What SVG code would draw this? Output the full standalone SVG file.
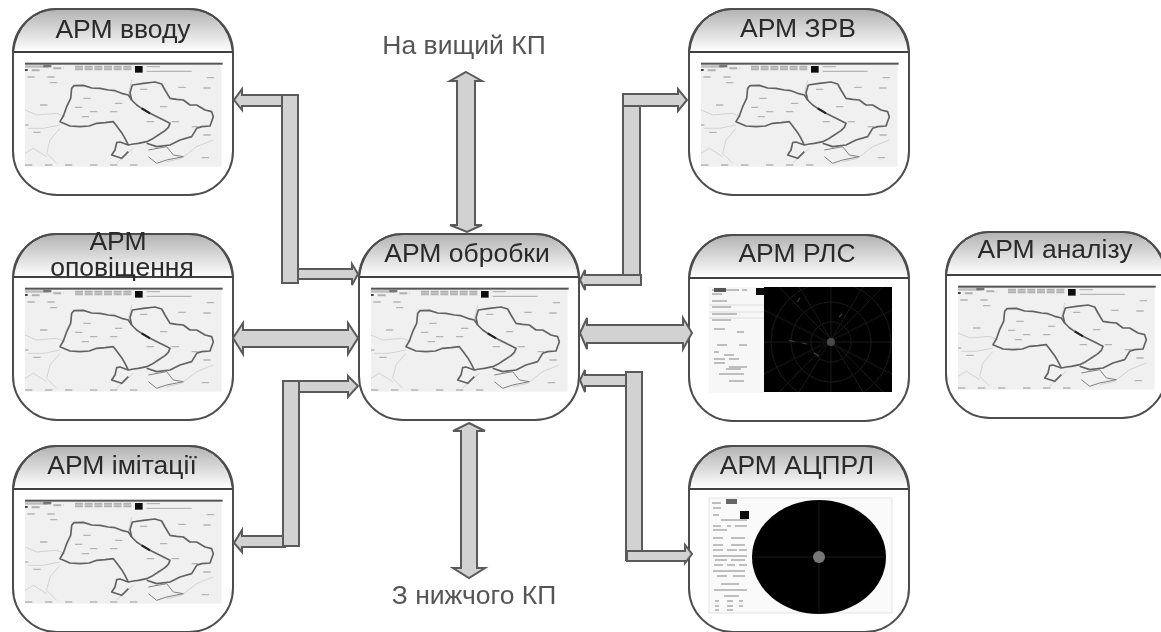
<svg xmlns="http://www.w3.org/2000/svg" xmlns:xlink="http://www.w3.org/1999/xlink" width="1161" height="632" viewBox="0 0 1161 632">
<style>
.label{font-family:"Liberation Sans",Arial,sans-serif;font-size:26.5px;fill:#2a2a2a;text-anchor:middle;filter:url(#soft)}
.ext{fill:#555}
.frame{fill:#fff;stroke:#4d4d4d;stroke-width:2}
.head{fill:url(#hg)}
.hline{stroke:#404040;stroke-width:2}
.conn path{fill:#d2d2d2;stroke:#5a5a5a;stroke-width:2;stroke-linejoin:miter}
.thick{fill:none;stroke:#626262;stroke-width:5;stroke-linejoin:round}
.river{fill:none;stroke:#cdcdcd;stroke-width:2.5}
.tiny{fill:none;stroke:#b4b4b4;stroke-width:4;stroke-dasharray:22 38}
.dash{stroke:#777;stroke-width:.9;fill:none}
</style>
<defs>
<linearGradient id="hg" x1="0" y1="0" x2="0" y2="1"><stop offset="0" stop-color="#b4b4b4"/><stop offset="1" stop-color="#fff"/></linearGradient>
<filter id="soft" x="-5%" y="-10%" width="110%" height="120%"><feGaussianBlur stdDeviation="0.45"/></filter>
<filter id="mapblur" x="-2%" y="-2%" width="104%" height="104%"><feGaussianBlur stdDeviation="2.2"/></filter>
<clipPath id="scope"><rect x="75" y="52" width="128" height="105"/></clipPath>
<g id="frame">
<rect class="frame" x="0" y="0" width="220" height="186" rx="44" ry="44"/>
<path class="head" d="M1,43C4,18 22,1 44,1H176C198,1 216,18 219,43Z"/>
<line class="hline" x1="0" y1="43" x2="220" y2="43"/>
<path d="M44,0H176C200,0 217,18 220,43M0,43C3,18 20,0 44,0" fill="none" stroke="#4d4d4d" stroke-width="2"/>
</g>
<g id="map" transform="translate(-13,-9) scale(.33333)">
<g filter="url(#mapblur)">
<rect x="75" y="192" width="590" height="308" fill="#f0f0f0"/>
<rect x="75" y="188" width="593" height="6" fill="#555"/>
<rect x="75" y="196" width="70" height="7" fill="#bbb"/>
<rect x="130" y="194" width="24" height="8" fill="#777"/>
<rect x="75" y="207" width="8" height="6" fill="#444"/>
<path d="M95,211H120M160,205H190M225,200H395M225,208H395" stroke="#b0b0b0" stroke-width="6" stroke-dasharray="24 5" fill="none"/>
<rect x="405" y="198" width="23" height="20" fill="#111"/>
<path d="M440,214H575M440,200H480" stroke="#aaa" stroke-width="3" fill="none"/>
<path class="river" d="M75,330L110,345L170,340L195,350M85,385L130,385L180,375M180,385L150,420L140,460L170,490M75,460L100,445L140,470M400,445L370,470L350,490M500,485L545,475L590,440L640,420M395,240L385,285"/>
<path class="tiny" d="M82,231H165M150,248H175M120,315H150M75,375H85M100,397H130M250,295H300M225,322H250M270,335H360M245,350H290M345,310H375M420,268H450M480,320H510M535,262H560M620,233H650M610,264H640M440,365H480M515,365H550M575,380H595M610,405H665M605,473H640M75,495H230M270,495H450"/>
<path class="thick" d="M215,265L222,257L250,256L275,264L300,265L325,270L345,272L365,280L385,285L395,300L410,315L425,325L450,340L480,355L510,370L505,382L495,392L475,405L455,418L440,425L415,430L400,432L385,435L375,415L365,398L350,378L340,365L315,368L290,370L268,378L240,380L210,378L180,365L190,348L200,320L212,295Z"/>
<path class="thick" d="M395,300L390,278L397,255L430,250L465,246L485,252L495,270L510,295L530,298L550,300L570,315L590,315L615,330L635,335L640,350L630,378L605,380L590,385L575,410L540,420L510,435L470,440L440,430"/>
<path class="thick" stroke-width="3.5" d="M385,435L360,426L350,428L345,450L335,465L365,475L385,455"/>
<path d="M445,450L500,440L520,465L550,470L500,480L470,490L445,470" fill="none" stroke="#808080" stroke-width="3"/>
<path d="M425,325L450,340" stroke="#222" stroke-width="6" fill="none"/>
</g>
</g>
</defs>

<g id="arm-vvodu" transform="translate(13,9)">
<use href="#frame"/><use href="#map"/>
<text class="label" x="110" y="29">АРМ вводу</text>
</g>
<g id="arm-opovishchennya" transform="translate(13,234)">
<use href="#frame"/><use href="#map"/>
<text class="label" x="105" y="16">АРМ</text>
<text class="label" x="109" y="42">оповіщення</text>
</g>
<g id="arm-imitatsii" transform="translate(13,446)">
<use href="#frame"/><use href="#map"/>
<text class="label" x="109" y="28">АРМ імітації</text>
</g>
<g id="arm-obrobky" transform="translate(359,234)">
<use href="#frame"/><use href="#map"/>
<text class="label" x="108" y="28">АРМ обробки</text>
</g>
<g id="arm-zrv" transform="translate(689,9)">
<use href="#frame"/><use href="#map"/>
<text class="label" x="109" y="28">АРМ ЗРВ</text>
</g>
<g id="arm-rls" transform="translate(689,235)">
<use href="#frame"/>
<g filter="url(#soft)">
<rect x="20" y="52" width="55" height="106" fill="#f7f7f7"/>
<path class="dash" d="M23,55H33M37,55H50M53,55H58M23,59H33M23,66H38M23,72H42M23,79H48M23,85H42M25,94H36M48,97H55M28,110H38M50,110H58M25,117H30M35,120H45M25,124H36M40,124H50M25,128H36M40,132H58M37,134H52M30,139H55M40,146H55"/>
<path d="M20,70H75M20,77H75M20,83H75" stroke="#ccc" stroke-width=".6"/>
<rect x="25" y="53" width="12" height="4" fill="#555"/>
<rect x="67" y="53" width="8" height="7" fill="#111"/>
<rect x="75" y="52" width="128" height="105" fill="#050505"/>
<g stroke="#1c1c1c" stroke-width=".7" fill="none" clip-path="url(#scope)">
<path d="M142,52V157M75,107H203M90,52L194,157M194,52L90,157M75,75L203,139M75,139L203,75M110,52L174,157M174,52L110,157"/>
<circle cx="142" cy="107" r="20"/><circle cx="142" cy="107" r="40"/><circle cx="142" cy="107" r="60"/>
</g>
<circle cx="142" cy="107" r="4" fill="#4a4a4a"/>
<path d="M125,118l5,3M100,105l6,2M113,108l5,1M150,82l3,-3M108,67l3,-4" stroke="#3e3e3e" stroke-width="1.2"/>
</g>
<text class="label" x="108" y="27">АРМ РЛС</text>
</g>
<g id="arm-atsprl" transform="translate(689,446)">
<use href="#frame"/>
<g filter="url(#soft)">
<rect x="20" y="52" width="183" height="115" fill="#fafafa" stroke="#ddd" stroke-width=".8"/>
<path class="dash" d="M23,57H32M24,62H32M24,69H30M32,74H58M24,80H32M38,80H42M46,80H58M24,84H38M24,92H34M42,92H56M24,99H34M42,99H56M24,104H34M38,104H48M50,104H58M24,110H58M26,114H38M42,114H56M25,119H34M38,119H46M50,119H58M24,125H56M28,130H38M44,130H56M32,138H50M25,144H58M35,150H50M26,155H30M38,155H44M50,155H54M26,160H30M38,160H44M50,160H54M26,164H30M38,164H44"/>
<rect x="37" y="53" width="11" height="5" fill="#666"/>
<rect x="51" y="65" width="9" height="8" fill="#111"/>
<ellipse cx="130" cy="111" rx="67" ry="57" fill="#050505"/>
<path d="M130,54V168M63,111H197" stroke="#161616" stroke-width=".7"/>
<circle cx="130" cy="111" r="6" fill="#777"/>
</g>
<text class="label" x="108" y="28">АРМ АЦПРЛ</text>
</g>
<g id="arm-analizu" transform="translate(946,232)">
<use href="#frame"/><use href="#map"/>
<text class="label" x="109" y="26">АРМ аналізу</text>
</g>
<g id="ext-up"><text class="label ext" x="464" y="54">На вищий КП</text></g>
<g id="ext-down"><text class="label ext" x="474" y="604">З нижчого КП</text></g>

<g id="connectors" class="conn">
<path d="M284,95H242V89L234,100L242,110V106H284Z"/>
<path d="M296,269H352V264L358,274L352,285V279H296Z"/>
<path d="M282,95H298V283H282Z"/>
<path d="M233,338L243,323V330H348V323L358,338L348,354V347H243V354Z"/>
<path d="M296,381H348V376L358,386L348,397V392H296Z"/>
<path d="M285,536H242V530L234,543L242,552V547H285Z"/>
<path d="M283,381H299V546H283Z"/>
<path d="M466,72L482,81H475V225H482L467,232L450,225H457V81H450Z"/>
<path d="M469,423L485,431H477V568H485L469,578L453,568H461V431H453Z"/>
<path d="M623,100H640V284H623Z"/>
<path d="M641,275H585V270L580,280L585,290V285H641Z"/>
<path d="M623,94H678V89L687,100L678,111V106H623Z"/>
<path d="M580,333L587,318V325H683V318L692,333L683,349V343H587V349Z"/>
<path d="M627,375H585V370L580,380L585,392V386H627Z"/>
<path d="M626,372H642V560H626Z"/>
<path d="M627,551H685V545L692,554L685,563V561H627Z"/>
</g>
</svg>
